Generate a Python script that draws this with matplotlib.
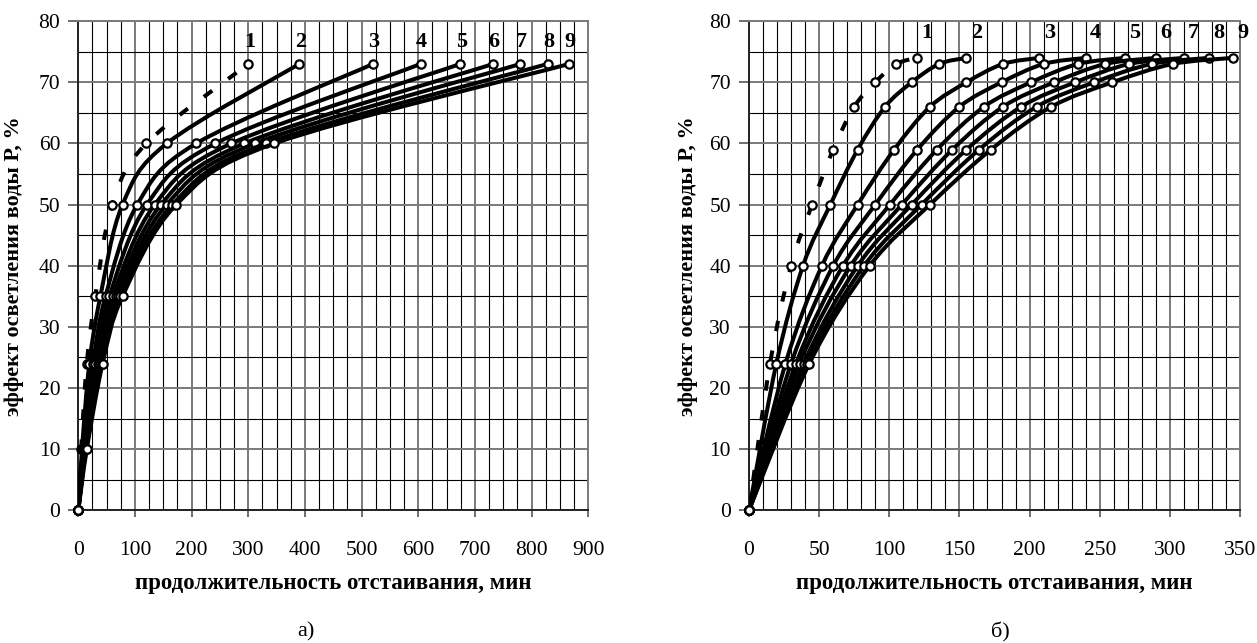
import numpy as np
import matplotlib
matplotlib.use('Agg')
import matplotlib.pyplot as plt
from matplotlib.path import Path
from matplotlib.patches import PathPatch
from matplotlib.ticker import MultipleLocator

plt.rcParams['font.family'] = ['Liberation Serif', 'DejaVu Serif']

# chart a): clarification effect P, % and settling time for curves 1..9
p_a = [0, 10, 24, 35, 50, 60, 73]
t_a = [
    [0, 5, 15, 30, 60, 120, 300],
    [0, 6.5, 19.5, 39, 78, 156, 390],
    [0, 8.5, 26, 48, 104, 208, 520],
    [0, 10, 30, 55, 121, 242, 604],
    [0, 11, 34, 61, 135, 270, 674],
    [0, 12, 36.5, 66, 146, 293, 732],
    [0, 13, 39, 70, 156, 312, 780],
    [0, 14, 41.5, 74, 166, 331, 828],
    [0, 15, 43, 78, 173, 346, 866],
]

# chart б)
p_b = [0, 24, 40, 50, 59, 66, 70, 73, 74]
t_b = [
    [0, 15, 30, 45, 60, 75, 90, 105, 120],
    [0, 19.5, 38.5, 58, 77.5, 97, 116, 135.5, 155],
    [0, 26, 52, 77.5, 103.5, 129, 155, 181, 207],
    [0, 30, 60, 90, 120, 150, 180, 210, 240],
    [0, 33.5, 67, 100.5, 134, 167.5, 201, 234.5, 268],
    [0, 36, 72.5, 109, 145, 181, 217.5, 254, 290],
    [0, 39, 77.5, 116, 155, 194, 232.5, 271, 310],
    [0, 41, 82, 123, 164, 205, 246, 287, 328],
    [0, 43, 86, 129, 172.5, 215.5, 259, 302, 345],
]

curve_names = ['1', '2', '3', '4', '5', '6', '7', '8', '9']

xlabel = 'продолжительность отстаивания, мин'
ylabel = 'эффект осветления воды Р, %'


def smooth_path(x, y):
    # excel-like smoothed line through the points (cubic bezier segments)
    pts = np.column_stack([x, y]).astype(float)
    n = len(pts)
    verts = [pts[0]]
    codes = [Path.MOVETO]
    for i in range(n - 1):
        p0 = pts[max(i - 1, 0)]
        p1 = pts[i]
        p2 = pts[i + 1]
        p3 = pts[min(i + 2, n - 1)]
        verts += [p1 + (p2 - p0) / 6, p2 - (p3 - p1) / 6, p2]
        codes += [Path.CURVE4] * 3
    return Path(verts, codes)


def draw_panel(ax, times, p, xmax, xmajor, xminor, lab_dx, lab_y):
    for i, t in enumerate(times):
        ls = (0, (2.6, 4.9)) if i == 0 else '-'
        patch = PathPatch(smooth_path(t, p), fill=False, edgecolor='black',
                          lw=2.9, linestyle=ls, capstyle='butt', zorder=3 + i)
        ax.add_patch(patch)
        ax.plot(t, p, ls='none', marker='o', ms=6, mfc='white', mec='black',
                mew=1.6, clip_on=False, zorder=3 + i)
        ax.text(t[-1] + lab_dx, lab_y, curve_names[i], fontsize=16,
                fontweight='bold', ha='center', va='center', clip_on=False)

    ax.set_xlim(0, xmax)
    ax.set_ylim(0, 80)
    ax.xaxis.set_major_locator(MultipleLocator(xmajor))
    ax.xaxis.set_minor_locator(MultipleLocator(xminor))
    ax.yaxis.set_major_locator(MultipleLocator(10))
    ax.yaxis.set_minor_locator(MultipleLocator(5))
    ax.grid(which='major', color='#7a7a7a', lw=1.4, zorder=1)
    ax.grid(which='minor', color='black', lw=0.8, zorder=1)
    ax.set_axisbelow(True)
    ax.tick_params(which='major', labelsize=15.5, color='#555555', width=1.2)
    ax.tick_params(axis='x', which='major', length=5, pad=17)
    ax.tick_params(axis='y', which='major', length=7, pad=6)
    ax.tick_params(which='minor', length=0)
    for s in ['left', 'bottom']:
        ax.spines[s].set_color('#222222')
        ax.spines[s].set_linewidth(1.4)
    for s in ['top', 'right']:
        ax.spines[s].set_color('#7a7a7a')
        ax.spines[s].set_linewidth(1.4)

    ax.set_xlabel(xlabel, fontsize=16.5, fontweight='bold')
    ax.xaxis.set_label_coords(0.5, -0.149)
    ax.xaxis.label.set_va('center')
    ax.set_ylabel(ylabel, fontsize=16, fontweight='bold')
    ax.yaxis.label.set_va('center')


fig = plt.figure(figsize=(12.57, 6.43), dpi=100)
ax1 = fig.add_axes([78.3 / 1257, 132.7 / 643, 510 / 1257, 489.1 / 643])
ax2 = fig.add_axes([749 / 1257, 132.7 / 643, 491 / 1257, 489.1 / 643])

draw_panel(ax1, t_a, p_a, 900, 100, 25, 2, 76.6)
ax1.yaxis.set_label_coords(-0.126, 0.5)
draw_panel(ax2, t_b, p_b, 350, 50, 10, 7, 78)
ax2.yaxis.set_label_coords(-0.124, 0.5)

fig.text(306 / 1257, 1 - 632 / 643, 'а)', fontsize=16, ha='center', va='center')
fig.text(1000 / 1257, 1 - 632 / 643, 'б)', fontsize=16, ha='center', va='center')

fig.savefig('out.png', dpi=100)
